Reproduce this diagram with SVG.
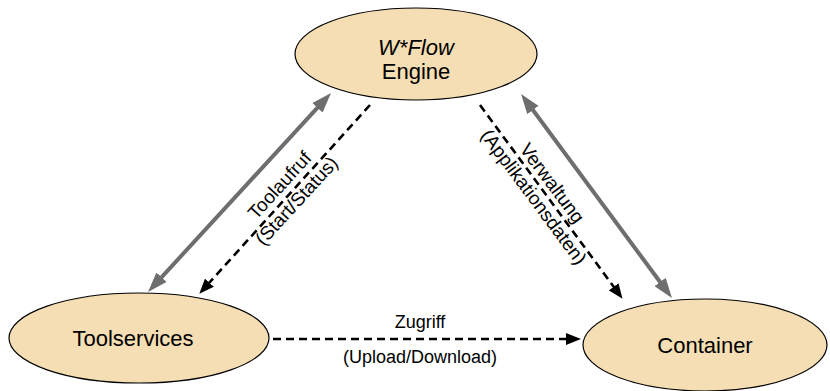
<svg xmlns="http://www.w3.org/2000/svg" width="830" height="391" viewBox="0 0 830 391">
<style>
.node{fill:#f5deb3;stroke:#000;stroke-width:1.2}
.nt{font-family:"Liberation Sans",Arial,sans-serif;font-size:22px;fill:#000;text-anchor:middle}
.el{font-family:"Liberation Sans",Arial,sans-serif;font-size:18px;fill:#000;text-anchor:middle}
.rl{font-family:"Liberation Sans",Arial,sans-serif;font-size:19px;fill:#000;text-anchor:middle}
.gray{stroke:#6e6e6e;stroke-width:4;fill:none;marker-start:url(#ga);marker-end:url(#ga)}
.dash{stroke:#000;stroke-width:2.6;stroke-dasharray:8,5;fill:none;marker-end:url(#ba)}
</style>
<defs>
<marker id="ga" viewBox="0 0 20 14" refX="10" refY="7" markerWidth="20" markerHeight="14" orient="auto-start-reverse" markerUnits="userSpaceOnUse"><path d="M0,0 L20,7 L0,14 z" fill="#6e6e6e"/></marker>
<marker id="ba" viewBox="0 0 15 12" refX="7" refY="6" markerWidth="15" markerHeight="12" orient="auto" markerUnits="userSpaceOnUse"><path d="M0,0 L15,6 L0,12 z" fill="#000"/></marker>
</defs>
<rect width="830" height="391" fill="#fff"/>
<g id="connectors">
<line class="gray" x1="324.2" y1="100.4" x2="154.8" y2="284.6"/>
<line class="gray" x1="527" y1="102" x2="666" y2="290"/>
<line class="dash" x1="370" y1="105" x2="204.7" y2="287.8"/>
<line class="dash" x1="480" y1="105" x2="617.8" y2="292.4"/>
<line class="dash" x1="273" y1="339" x2="573" y2="339"/>
<text class="el" x="420" y="328">Zugriff</text>
<text class="el" x="420" y="363">(Upload/Download)</text>
<g transform="translate(288,193) rotate(-47.5)">
<text class="rl" x="0" y="-5">Toolaufruf</text>
<text class="rl" x="0" y="18">(Start/Status)</text>
</g>
<g transform="translate(543,190) rotate(53.3)">
<text class="rl" x="0" y="-5">Verwaltung</text>
<text class="rl" x="0" y="18">(Applikationsdaten)</text>
</g>
</g>
<g id="engine">
<ellipse class="node" cx="416" cy="54" rx="121" ry="46"/>
<text class="nt" x="416" y="55" font-style="italic">W*Flow</text>
<text class="nt" x="416" y="79">Engine</text>
</g>
<g id="toolservices">
<ellipse class="node" cx="139" cy="338" rx="130" ry="45"/>
<text class="nt" x="133" y="346">Toolservices</text>
</g>
<g id="container">
<ellipse class="node" cx="705" cy="345" rx="122" ry="46"/>
<text class="nt" x="705" y="353">Container</text>
</g>
</svg>
